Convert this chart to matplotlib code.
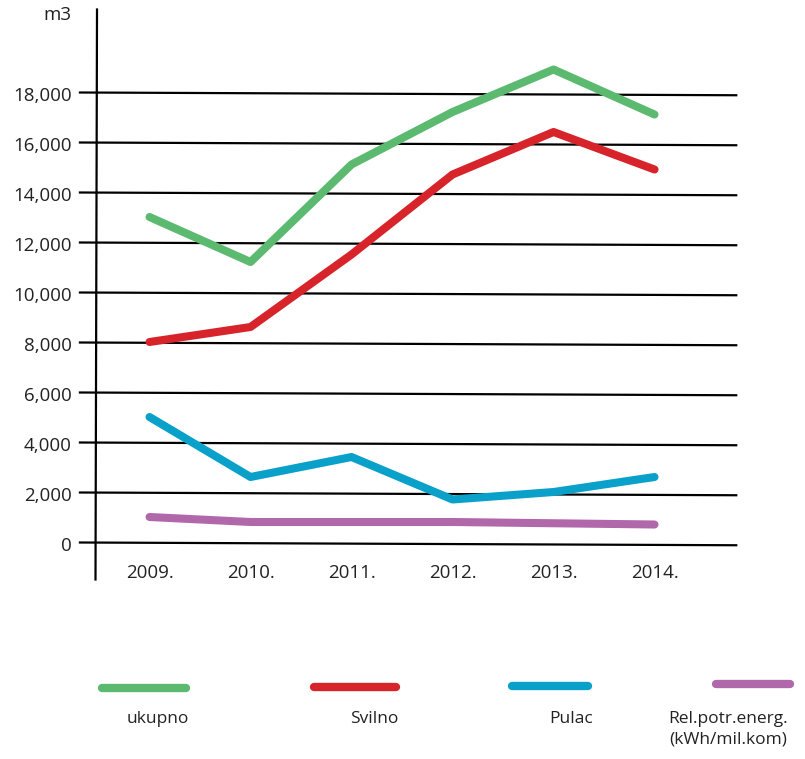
import matplotlib
matplotlib.use("Agg")
import matplotlib.pyplot as plt
from matplotlib.lines import Line2D

# data
years = [2009, 2010, 2011, 2012, 2013, 2014]
year_labels = ["2009.", "2010.", "2011.", "2012.", "2013.", "2014."]
ukupno = [13000, 11200, 15100, 17200, 18900, 17100]
svilno = [8000, 8600, 11500, 14700, 16400, 14900]
pulac = [5000, 2600, 3400, 1700, 2000, 2600]
rel_energ = [1000, 800, 800, 800, 750, 700]
y_ticks = [0, 2000, 4000, 6000, 8000, 10000, 12000, 14000, 16000, 18000]

series_names = ["ukupno", "Svilno", "Pulac", "Rel.potr.energ.\n(kWh/mil.kom)"]
colors = ["#5cba70", "#d7232a", "#09a0c9", "#b068ab"]

plt.rcParams['font.family'] = ['Open Sans', 'DejaVu Sans']

W, H = 805, 759
fig = plt.figure(figsize=(W / 100, H / 100), dpi=100)

# axes box in pixels: x 96..735, y 10..582
ax = fig.add_axes([96 / W, 1 - 582 / H, (735 - 96) / W, (582 - 10) / H])
ax.set_xlim(2008.47, 2008.47 + 639 / 101)
ax.set_ylim(-1600, -1600 + 572 * 40)
ax.axis("off")
ax.patch.set_visible(False)

# hand drawn grid lines (slight tilt)
for v in y_ticks:
    ax.plot([2008.3, 2014.82], [v - 20, v - 130], color="black", lw=1.6,
            clip_on=False, zorder=1, solid_capstyle="butt")
    ax.text(2008.23, v - 150, "{:,}".format(v), ha="right", va="center",
            fontsize=13.5, color="#222222", clip_on=False)

# y axis line
ax.plot([2008.48, 2008.465], [21300, -1500], color="black", lw=1.6,
        clip_on=False, zorder=2)
ax.text(2008.23, 21100, "m3", ha="right", va="center", fontsize=13.5,
        color="#222222", clip_on=False)

for x, lab in zip(years, year_labels):
    ax.text(x, -1220, lab, ha="center", va="center", fontsize=13.5,
            color="#222222")

for vals, c in zip([ukupno, svilno, pulac, rel_energ], colors):
    ax.plot(years, vals, color=c, lw=5.8, solid_capstyle="round",
            solid_joinstyle="round", zorder=3)

# legend drawn as brush strokes
stroke_x = [(102, 186), (314, 396), (512, 588), (716, 790)]
stroke_y = [688, 687, 686, 684]
label_x = [158, 374, 571, 728]
for (x0, x1), sy, lx, name, c in zip(stroke_x, stroke_y, label_x,
                                     series_names, colors):
    fig.add_artist(Line2D([x0 / W, x1 / W], [1 - sy / H, 1 - sy / H],
                          color=c, lw=6, solid_capstyle="round"))
    fig.text(lx / W, 1 - 711 / H, name, ha="center", va="top",
             fontsize=12.5, color="#222222", linespacing=1.4)

fig.savefig("out.png", dpi=100)
